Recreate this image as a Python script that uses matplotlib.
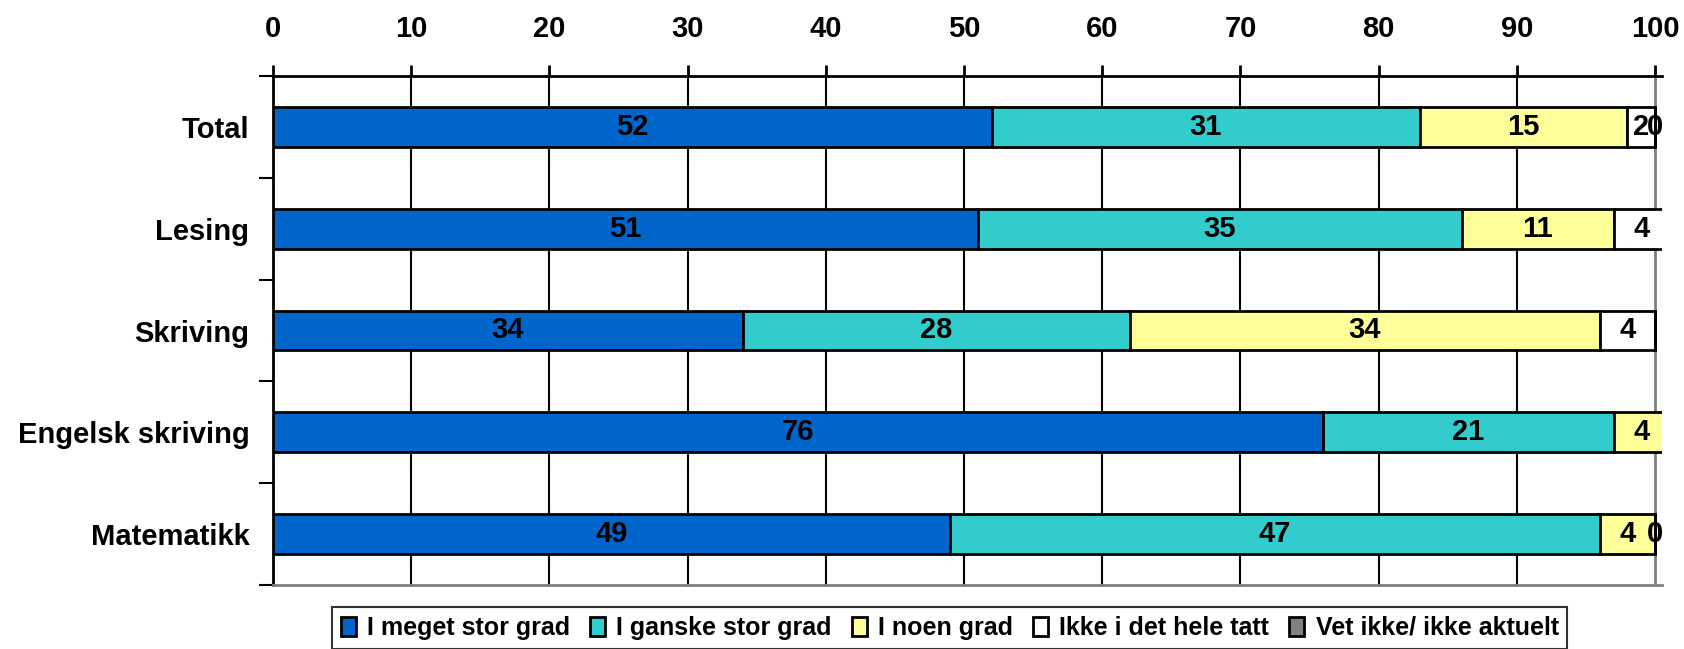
import matplotlib
matplotlib.use("Agg")
import matplotlib.pyplot as plt
import numpy as np

plt.rcParams['font.family'] = ['Liberation Sans', 'DejaVu Sans']
plt.rcParams['font.weight'] = 'bold'

categories = ["Total", "Lesing", "Skriving", "Engelsk skriving", "Matematikk"]
series = ["I meget stor grad", "I ganske stor grad", "I noen grad",
          "Ikke i det hele tatt", "Vet ikke/ ikke aktuelt"]
colors = ["#0066CC", "#33CCCC", "#FFFF99", "#FFFFFF", "#808080"]

# None = no value / no label
meget = [52, 51, 34, 76, 49]
ganske = [31, 35, 28, 21, 47]
noen = [15, 11, 34, 4, 4]
ikke = [2, 4, 4, None, 0]
vet = [0, None, None, None, None]
values = [meget, ganske, noen, ikke, vet]

fig = plt.figure(figsize=(16.84, 6.49), dpi=100)
ax = fig.add_axes([273 / 1684, 1 - 585 / 649, (1662 - 273) / 1684, (585 - 76) / 649])

y = np.arange(len(categories))
left = np.zeros(len(categories))
h = 0.39
for vals, name, col in zip(values, series, colors):
    v = np.array([0 if x is None else x for x in vals], dtype=float)
    ax.barh(y, v, left=left, height=h, color=col, edgecolor="black",
            linewidth=2, label=name, zorder=3)
    for i, x in enumerate(vals):
        if x is None:
            continue
        ax.text(left[i] + x / 2, y[i], str(x), ha="center", va="center",
                fontsize=21, fontweight="bold", zorder=5, clip_on=False)
    left = left + v

ax.set_xlim(0, 100.5)
ax.set_ylim(len(categories) - 0.5, -0.5)
ax.set_xticks(np.arange(0, 101, 10))
ax.xaxis.tick_top()
ax.tick_params(axis="x", direction="out", length=8, width=2, labelsize=21, pad=16)
ax.set_yticks(y)
ax.set_yticklabels(categories, fontsize=21, fontweight="bold")
ax.set_yticks(np.arange(-0.5, len(categories), 1), minor=True)
ax.tick_params(axis="y", which="major", length=0, pad=17)
ax.tick_params(axis="y", which="minor", length=10, width=1.5)
for t in ax.get_xticklabels():
    t.set_fontweight("bold")

for gx in range(10, 100, 10):
    ax.axvline(gx, color="black", linewidth=1.5, zorder=1)
ax.axvline(100, color="#808080", linewidth=2, zorder=1)

ax.spines["top"].set_linewidth(2)
ax.spines["left"].set_linewidth(2)
ax.spines["bottom"].set_color("#808080")
ax.spines["bottom"].set_linewidth(2)
ax.spines["right"].set_visible(False)

leg = fig.legend(loc="upper left", bbox_to_anchor=(332 / 1684, 1 - 607 / 649),
                 ncol=5, frameon=True, fancybox=False,
                 edgecolor="black", handlelength=0.6, handleheight=0.8,
                 handletextpad=0.45, columnspacing=0.8, borderpad=0.35,
                 borderaxespad=0, prop={"weight": "bold", "size": 18})
leg.get_frame().set_linewidth(1.5)

fig.savefig("out.png", dpi=100)
